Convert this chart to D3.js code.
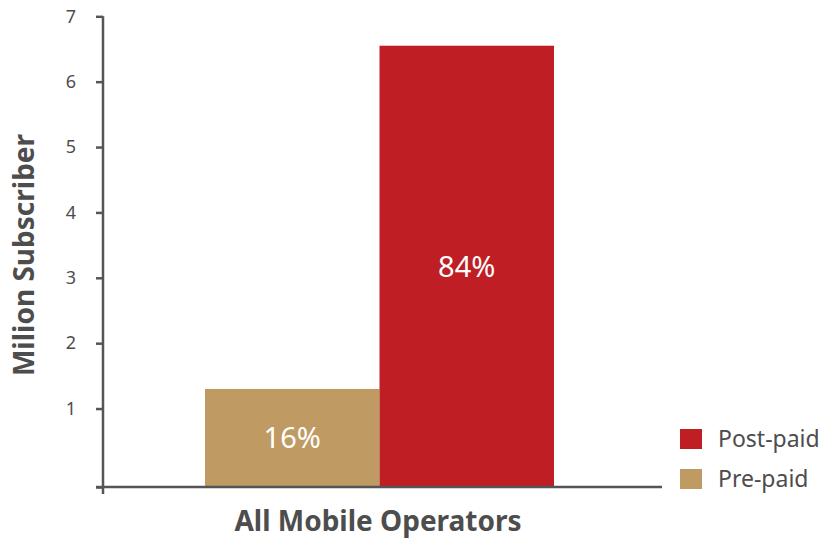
<!DOCTYPE html>
<html>
<head>
<meta charset="utf-8">
<script src="https://cdn.jsdelivr.net/npm/d3@7"></script>
<style>
  body { margin: 0; background: #fff; }
  text { font-family: "Noto Sans", "Open Sans", sans-serif; }
</style>
</head>
<body>
<div class="chart"></div>
<script>
// data
var series = ["Pre-paid", "Post-paid"];
var values = [1.3, 6.55];
var shares = ["16%", "84%"];
var colors = ["#bf9a63", "#be1e24"];
var yTicks = [1, 2, 3, 4, 5, 6, 7];
var legendOrder = ["Post-paid", "Pre-paid"];

var svgWidth = 824;
var svgHeight = 542;
var axisColor = "#555555";
var textColor = "#4d4d4d";

var svg = d3.select(".chart")
  .append("svg")
  .attr("width", svgWidth)
  .attr("height", svgHeight);

// y scale: axis line runs a little below zero
var yScale = d3.scaleLinear()
  .domain([-0.2, 7])
  .range([487, 16.3]);

var xScale = d3.scaleBand()
  .domain(series)
  .range([205, 554])
  .padding(0);

// bars
svg.selectAll("rect.bar")
  .data(series)
  .enter()
  .append("rect")
  .attr("class", "bar")
  .attr("x", d => xScale(d))
  .attr("width", xScale.bandwidth())
  .attr("y", (d, i) => yScale(values[i]))
  .attr("height", (d, i) => yScale.range()[0] - yScale(values[i]))
  .attr("fill", (d, i) => colors[i]);

// percent labels, centred in each bar
svg.selectAll("text.share")
  .data(series)
  .enter()
  .append("text")
  .attr("class", "share")
  .attr("x", d => xScale(d) + xScale.bandwidth() / 2)
  .attr("y", (d, i) => (yScale(values[i]) + yScale.range()[0]) / 2)
  .attr("dy", "0.36em")
  .attr("text-anchor", "middle")
  .attr("fill", "#ffffff")
  .style("font-size", "29px")
  .text((d, i) => shares[i]);

// y axis
var leftAxis = d3.axisLeft(yScale)
  .tickValues([-0.2].concat(yTicks))
  .tickFormat(d => d < 0 ? "" : d)
  .tickSize(7)
  .tickSizeOuter(0)
  .tickPadding(20);

var yAxis = svg.append("g")
  .attr("transform", "translate(103, 0)")
  .call(leftAxis);

yAxis.select(".domain")
  .attr("stroke", axisColor)
  .attr("stroke-width", 2.5)
  .attr("d", `M0,${yScale(7)}H0V${yScale.range()[0] + 7}`);
yAxis.selectAll(".tick line")
  .attr("stroke", axisColor)
  .attr("stroke-width", 2.5);
yAxis.selectAll(".tick text")
  .attr("fill", textColor)
  .style("font-size", "18px")
  .style("font-family", "Noto Sans, sans-serif");

// x axis line
svg.append("line")
  .attr("x1", 96)
  .attr("x2", 662)
  .attr("y1", yScale.range()[0])
  .attr("y2", yScale.range()[0])
  .attr("stroke", axisColor)
  .attr("stroke-width", 2.5);

// axis titles
svg.append("text")
  .attr("x", 378)
  .attr("y", 531)
  .attr("text-anchor", "middle")
  .attr("fill", textColor)
  .style("font-size", "28px")
  .style("font-weight", "bold")
  .text("All Mobile Operators");

svg.append("text")
  .attr("transform", "translate(34, 255) rotate(-90)")
  .attr("text-anchor", "middle")
  .attr("fill", textColor)
  .style("font-size", "28px")
  .style("font-weight", "bold")
  .text("Milion Subscriber");

// legend
var legend = svg.selectAll("g.legend")
  .data(legendOrder)
  .enter()
  .append("g")
  .attr("class", "legend")
  .attr("transform", (d, i) => `translate(680, ${429 + i * 40})`);

legend.append("rect")
  .attr("width", 22)
  .attr("height", 20)
  .attr("fill", d => colors[series.indexOf(d)]);

legend.append("text")
  .attr("x", 38)
  .attr("y", 10)
  .attr("dy", "0.35em")
  .attr("fill", textColor)
  .style("font-size", "23px")
  .text(d => d);
</script>
</body>
</html>
